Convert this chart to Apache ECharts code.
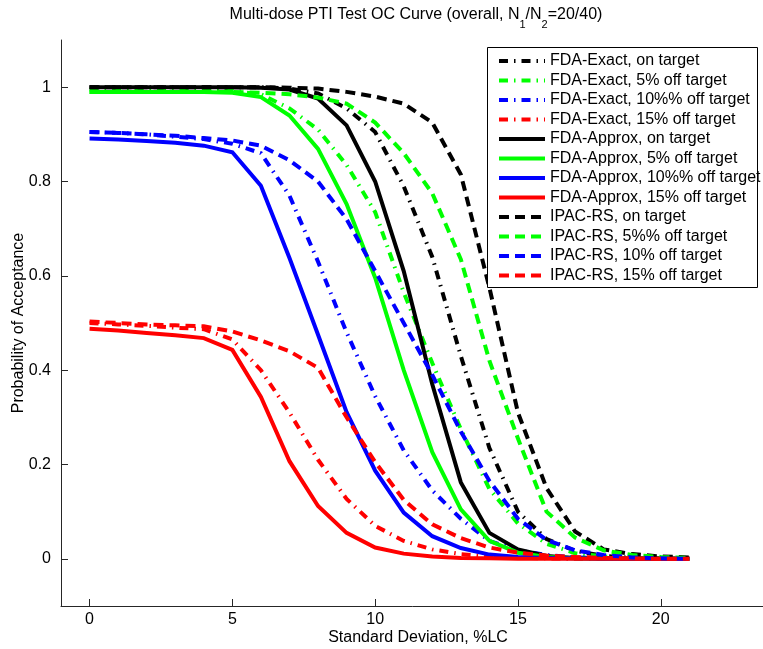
<!DOCTYPE html>
<html>
<head>
<meta charset="utf-8">
<script src="https://cdn.jsdelivr.net/npm/echarts@6/dist/echarts.min.js"></script>
<style>
html,body{margin:0;padding:0;background:#ffffff;}
#chart{width:763px;height:649px;}
</style>
</head>
<body>
<div id="chart"></div>
<script>
// ---- data ----
const sdValues = [0,1,2,3,4,5,6,7,8,9,10,11,12,13,14,15,16,17,18,19,20,21];

const fdaExactOn  = [1,1,1,1,1,1,1,0.997,0.987,0.955,0.905,0.79,0.64,0.43,0.235,0.10,0.042,0.017,0.006,0.002,0.001,0];
const fdaExact5   = [0.995,0.995,0.995,0.995,0.995,0.992,0.985,0.955,0.91,0.835,0.735,0.565,0.415,0.275,0.148,0.075,0.032,0.012,0.005,0.002,0.001,0];
const fdaExact10  = [0.905,0.903,0.9,0.895,0.89,0.88,0.86,0.77,0.63,0.48,0.345,0.23,0.145,0.085,0.038,0.018,0.008,0.003,0.001,0,0,0];
const fdaExact15  = [0.50,0.497,0.494,0.49,0.487,0.465,0.40,0.31,0.21,0.127,0.07,0.038,0.02,0.01,0.005,0.002,0.001,0,0,0,0,0];

const fdaApproxOn = [1,1,1,1,1,1,0.999,0.995,0.976,0.919,0.80,0.61,0.37,0.162,0.055,0.02,0.006,0.002,0.001,0,0,0];
const fdaApprox5  = [0.99,0.99,0.99,0.99,0.99,0.988,0.979,0.94,0.869,0.752,0.596,0.40,0.226,0.105,0.038,0.013,0.004,0.001,0,0,0,0];
const fdaApprox10 = [0.891,0.889,0.886,0.882,0.876,0.862,0.791,0.638,0.475,0.311,0.187,0.098,0.048,0.023,0.009,0.004,0.002,0.001,0,0,0,0];
const fdaApprox15 = [0.488,0.484,0.479,0.474,0.468,0.443,0.343,0.207,0.112,0.055,0.024,0.011,0.005,0.002,0.001,0,0,0,0,0,0,0];

const ipacOn      = [1,1,1,1,1,1,1,0.999,0.997,0.99,0.98,0.965,0.925,0.815,0.575,0.31,0.15,0.058,0.02,0.01,0.005,0.003];
const ipac5       = [0.99,0.99,0.99,0.99,0.99,0.99,0.988,0.985,0.978,0.965,0.925,0.86,0.775,0.635,0.42,0.255,0.10,0.045,0.018,0.008,0.004,0.002];
const ipac10      = [0.905,0.903,0.90,0.897,0.892,0.887,0.876,0.845,0.80,0.72,0.61,0.50,0.39,0.27,0.165,0.085,0.04,0.018,0.008,0.003,0.001,0];
const ipac15      = [0.503,0.50,0.497,0.495,0.493,0.482,0.463,0.44,0.405,0.30,0.205,0.125,0.073,0.044,0.024,0.013,0.007,0.004,0.002,0.001,0,0];

const seriesNames = [
  'FDA-Exact, on target','FDA-Exact, 5% off target','FDA-Exact, 10%% off target','FDA-Exact, 15% off target',
  'FDA-Approx, on target','FDA-Approx, 5% off target','FDA-Approx, 10%% off target','FDA-Approx, 15% off target',
  'IPAC-RS, on target','IPAC-RS, 5%% off target','IPAC-RS, 10% off target','IPAC-RS, 15% off target'
];
const seriesValues = [
  fdaExactOn, fdaExact5, fdaExact10, fdaExact15,
  fdaApproxOn, fdaApprox5, fdaApprox10, fdaApprox15,
  ipacOn, ipac5, ipac10, ipac15
];

const xTicks = [0,5,10,15,20];
const yTicks = [0,0.2,0.4,0.6,0.8,1];

const titleText = 'Multi-dose PTI Test OC Curve (overall, N';
const xAxisTitle = 'Standard Deviation, %LC';
const yAxisTitle = 'Probability of Acceptance';

// ---- styles ----
const FONT = 'Liberation Sans, Arial, Helvetica, sans-serif';
const colors = ['#000000','#00ff00','#0000ff','#ff0000'];
const dashDot = [9,6,1.5,6];
const dashed = [10,6];
const styleTypes = [dashDot, 'solid', dashed];

const series = seriesValues.map((vals, i) => {
  const group = Math.floor(i / 4);
  return {
    name: seriesNames[i],
    type: 'line',
    symbol: 'none',
    showSymbol: false,
    data: sdValues.map((x, k) => [x, vals[k]]),
    lineStyle: {
      color: colors[i % 4],
      width: 4,
      type: styleTypes[group],
      cap: 'butt',
      join: 'miter'
    },
    itemStyle: { color: colors[i % 4], opacity: 0 },
    emphasis: { disabled: true },
    silent: true,
    z: 2
  };
});

const chart = echarts.init(document.getElementById('chart'), null, { renderer: 'canvas' });
chart.setOption({
  animation: false,
  backgroundColor: '#ffffff',
  textStyle: { fontFamily: FONT },
  grid: { left: 61, right: -12, top: 40, bottom: 43, containLabel: false, outerBoundsMode: 'none' },
  xAxis: {
    type: 'value',
    min: -1, max: 24,
    name: xAxisTitle,
    nameLocation: 'middle',
    nameGap: 24,
    nameMoveOverlap: false,
    nameTextStyle: { fontSize: 16, color: '#000', fontFamily: FONT },
    axisLine: { show: true, onZero: false, lineStyle: { color: '#262626', width: 1 } },
    axisTick: { show: true, inside: true, length: 7, customValues: xTicks, lineStyle: { color: '#262626' } },
    axisLabel: { show: true, customValues: xTicks, fontSize: 16, color: '#000', margin: 6, fontFamily: FONT },
    splitLine: { show: false }
  },
  yAxis: {
    type: 'value',
    min: -0.1, max: 1.1,
    name: yAxisTitle,
    nameLocation: 'middle',
    nameGap: 34,
    nameMoveOverlap: false,
    nameTextStyle: { fontSize: 16, color: '#000', fontFamily: FONT },
    axisLine: { show: true, onZero: false, lineStyle: { color: '#262626', width: 1 } },
    axisTick: { show: true, inside: true, length: 7, customValues: yTicks, lineStyle: { color: '#262626' } },
    axisLabel: { show: true, customValues: yTicks, fontSize: 16, color: '#000', margin: 10, fontFamily: FONT },
    splitLine: { show: false }
  },
  legend: {
    orient: 'vertical',
    left: 497,
    top: 53,
    padding: 0,
    itemWidth: 46,
    itemHeight: 14,
    itemGap: 3.5,
    selectedMode: false,
    data: seriesNames,
    itemStyle: { opacity: 0 },
    lineStyle: { width: 4 },
    textStyle: { fontSize: 16, color: '#000', lineHeight: 14, fontFamily: FONT },
    z: 10
  },
  graphic: [
    {
      type: 'rect',
      z: 5,
      silent: true,
      shape: { x: 487.5, y: 47.5, width: 270, height: 240 },
      style: { fill: '#ffffff', stroke: '#000000', lineWidth: 1 }
    },
    {
      type: 'text',
      z: 10,
      silent: true,
      x: 416,
      y: 0,
      style: {
        text: '{b|' + titleText + '}{s|1}{b|/N}{s|2}{b|=20/40)}',
        align: 'center',
        verticalAlign: 'top',
        rich: {
          b: { fontSize: 16, lineHeight: 30, fontFamily: FONT, fill: '#000' },
          s: { fontSize: 11, lineHeight: 12, verticalAlign: 'bottom', fontFamily: FONT, fill: '#000' }
        }
      }
    }
  ],
  series: series
});
</script>
</body>
</html>
